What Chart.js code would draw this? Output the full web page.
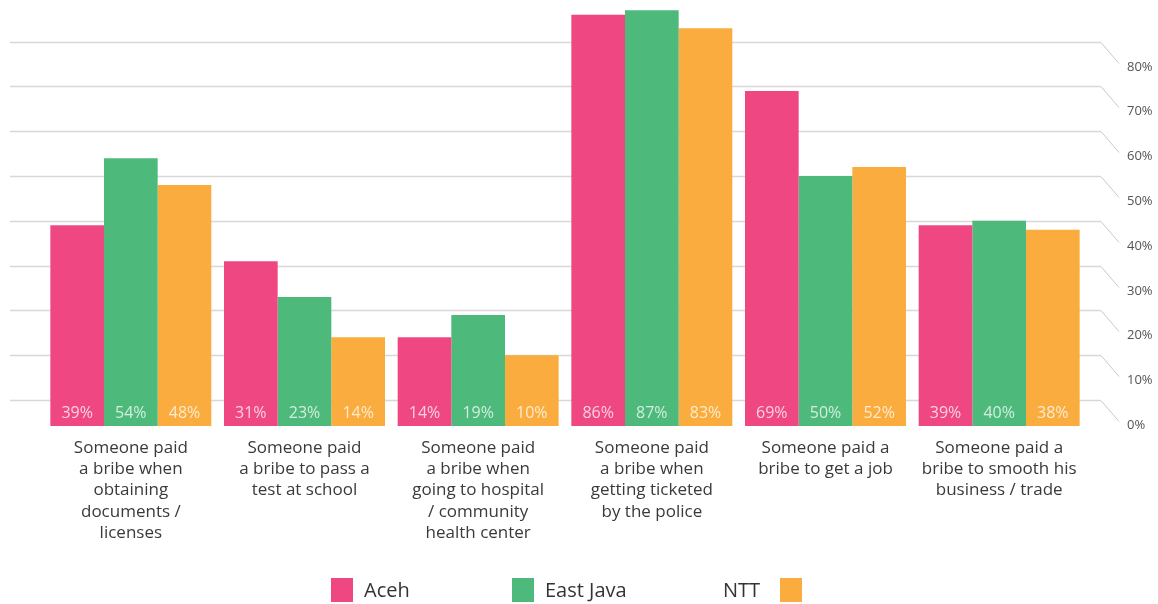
<!DOCTYPE html>
<html>
<head>
<meta charset="utf-8">
<script src="https://cdn.jsdelivr.net/npm/chart.js@4"></script>
<style>
  html, body { margin: 0; padding: 0; background: #fff; }
  #wrap { position: relative; width: 1158px; height: 604px; }
  #chart { position: absolute; left: 0; top: 0; }
  .legend-box { position: absolute; top: 578px; width: 22px; height: 24px; }
  .legend-text { position: absolute; top: 576px; font: 20px 'Open Sans', sans-serif; color: #333; line-height: 28px; }
</style>
</head>
<body>
<div id="wrap">
  <canvas id="chart" width="1158" height="604"></canvas>
  <div class="legend-box" style="left:331px; background:#EF4782;"></div>
  <div class="legend-text" style="left:364px;">Aceh</div>
  <div class="legend-box" style="left:512px; background:#4DB97B;"></div>
  <div class="legend-text" style="left:545px;">East Java</div>
  <div class="legend-text" style="left:723px;">NTT</div>
  <div class="legend-box" style="left:780px; background:#FAAD3E;"></div>
</div>
<script>
// ===== data =====
const categories = [
    ['Someone paid', 'a bribe when', 'obtaining', 'documents /', 'licenses'],
    ['Someone paid', 'a bribe to pass a', 'test at school'],
    ['Someone paid', 'a bribe when', 'going to hospital', '/ community', 'health center'],
    ['Someone paid', 'a bribe when', 'getting ticketed', 'by the police'],
    ['Someone paid a', 'bribe to get a job'],
    ['Someone paid a', 'bribe to smooth his', 'business / trade']
];
const aceh = [39, 31, 14, 86, 69, 39];
const eastJava = [54, 23, 19, 87, 50, 40];
const ntt = [48, 14, 10, 83, 52, 38];
const yTicks = [0, 10, 20, 30, 40, 50, 60, 70, 80];

// bars stand on a floor slightly in front of the 0% line
const FLOOR = -5.8;

// gridlines at the back, with a slanted leader out to each % label
const backGrid = {
    id: 'backGrid',
    beforeDatasetsDraw(chart) {
        const { ctx, chartArea, scales: { y } } = chart;
        const x0 = chartArea.left - 34;
        const x1 = chartArea.right + 15;
        ctx.save();
        yTicks.forEach(v => {
            const py = Math.round(y.getPixelForValue(v)) + 0.5;
            ctx.strokeStyle = '#d8d8d8';
            ctx.lineWidth = 1.5;
            ctx.beginPath();
            ctx.moveTo(x0, py);
            ctx.lineTo(x1, py);
            ctx.stroke();
            ctx.strokeStyle = '#c8c8c8';
            ctx.lineWidth = 1;
            ctx.beginPath();
            ctx.moveTo(x1, py);
            ctx.lineTo(x1 + 18, py + 21);
            ctx.stroke();
            ctx.fillStyle = '#555';
            ctx.font = '13px "Open Sans", sans-serif';
            ctx.textAlign = 'left';
            ctx.textBaseline = 'middle';
            ctx.fillText(v + '%', x1 + 26, py + 25);
        });
        ctx.restore();
    }
};

// value labels sit at the foot of each bar
const barValues = {
    id: 'barValues',
    afterDatasetsDraw(chart) {
        const { ctx } = chart;
        ctx.save();
        ctx.font = '16px "Open Sans", sans-serif';
        ctx.fillStyle = 'rgba(255,255,255,0.75)';
        ctx.textAlign = 'center';
        ctx.textBaseline = 'middle';
        chart.data.datasets.forEach((ds, i) => {
            chart.getDatasetMeta(i).data.forEach((bar, j) => {
                ctx.fillText(ds.data[j] + '%', bar.x, bar.base - 13);
            });
        });
        ctx.restore();
    }
};

new Chart(document.getElementById('chart'), {
    type: 'bar',
    data: {
        labels: categories,
        datasets: [
            { label: 'Aceh', data: aceh, backgroundColor: '#EF4782' },
            { label: 'East Java', data: eastJava, backgroundColor: '#4DB97B' },
            { label: 'NTT', data: ntt, backgroundColor: '#FAAD3E' }
        ]
    },
    options: {
        responsive: false,
        animation: false,
        base: FLOOR,
        barPercentage: 1,
        categoryPercentage: 0.927,
        layout: { padding: { left: 44, right: 72, top: 0, bottom: 28 } },
        plugins: { legend: { display: false }, tooltip: { enabled: false } },
        scales: {
            x: {
                grid: { display: false, drawTicks: false },
                border: { display: false },
                afterFit: s => { s.height = 150; },
                ticks: {
                    color: '#3a3a3a',
                    padding: 11,
                    maxRotation: 0,
                    autoSkip: false,
                    font: { family: 'Open Sans', size: 17, lineHeight: 1.26 }
                }
            },
            y: {
                display: false,
                min: FLOOR,
                max: 89.3
            }
        }
    },
    plugins: [backGrid, barValues]
});
</script>
</body>
</html>
